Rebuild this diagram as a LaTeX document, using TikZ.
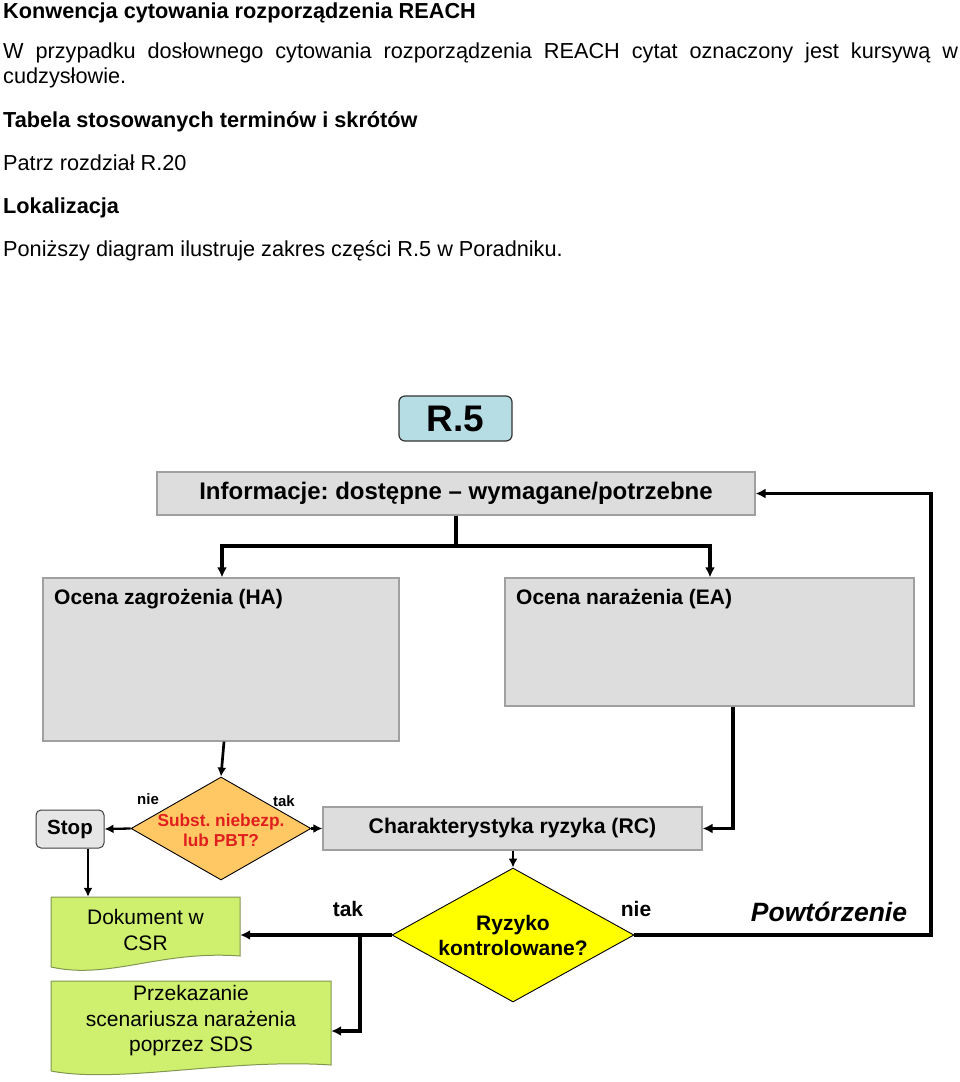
\documentclass[tikz,border=0pt]{standalone}
\usepackage{fontspec}
\setmainfont{Liberation Sans}
\usetikzlibrary{shapes.geometric,arrows.meta,calc}
\definecolor{boxgray}{RGB}{221,221,221}
\definecolor{boxedge}{RGB}{160,160,160}
\definecolor{rblue}{RGB}{183,221,228}
\definecolor{dorange}{RGB}{255,200,100}
\definecolor{dyellow}{RGB}{255,255,0}
\definecolor{dgreen}{RGB}{206,240,110}
\definecolor{gedge}{RGB}{130,150,80}
\definecolor{dred}{RGB}{225,30,30}
\definecolor{stopgray}{RGB}{230,230,230}
\frenchspacing
\begin{document}
\begin{tikzpicture}[x=1pt,y=-1pt,
  tx/.style={inner sep=0pt, anchor=base west, font=\fontsize{21.7}{25}\selectfont},
  txb/.style={tx, font=\fontsize{21.7}{25}\selectfont\bfseries},
  gbox/.style={draw=boxedge, fill=boxgray, line width=1.2pt, inner sep=0pt},
  dia/.style={diamond, draw=black, line width=0.9pt, inner sep=0pt, aspect=1},
  docst/.style={draw=gedge, fill=dgreen, line width=1pt},
  thickarr/.style={line width=3.2pt, -{Latex[length=10pt,width=10pt]}},
  thinarr/.style={line width=2.3pt, -{Latex[length=9pt,width=9pt]}},
  lbl/.style={inner sep=0pt, font=\fontsize{21}{25}\selectfont\bfseries}
]
\useasboundingbox (0,0) rectangle (960,1082);

% ---- header text ----
\node[txb] (t1) at (3,18) {Konwencja cytowania rozporządzenia REACH};
\node[tx] (t2) at (3,58) {\makebox[955pt][s]{W przypadku dosłownego cytowania rozporządzenia REACH cytat oznaczony jest kursywą w}};
\node[tx] (t3) at (3,83) {cudzysłowie.};
\node[txb] (t4) at (3,127) {Tabela stosowanych terminów i skrótów};
\node[tx] (t5) at (3,170) {Patrz rozdział R.20};
\node[txb] (t6) at (3,213) {Lokalizacja};
\node[tx] (t7) at (3,256) {Poniższy diagram ilustruje zakres części R.5 w Poradniku.};

% ---- diagram boxes ----
\node[draw=black!80, fill=rblue, rounded corners=6pt, line width=1.2pt, inner sep=0pt,
      minimum width=113pt, minimum height=45pt,
      font=\fontsize{37}{40}\selectfont\bfseries] (r5) at (455.5,418.5) {R.5};

\node[gbox, minimum width=598pt, minimum height=43pt,
      font=\fontsize{24}{28}\selectfont\bfseries] (info) at (456,493.5)
      {Informacje: dostępne -- wymagane/potrzebne};

\node[gbox, minimum width=356pt, minimum height=163pt] (ha) at (221,659.5) {};
\node[lbl, anchor=base west] (hat) at (54,604) {Ocena zagrożenia (HA)};
\node[gbox, minimum width=409pt, minimum height=128pt] (ea) at (709.5,642) {};
\node[lbl, anchor=base west] (eat) at (516,604) {Ocena narażenia (EA)};

\node[dia, fill=dorange, minimum width=180pt, minimum height=103pt] (d1) at (221,828.5) {};
\node[inner sep=0pt, align=center, text=dred,
      font=\fontsize{17.3}{20}\selectfont\bfseries] (d1t) at (221,830) {Subst. niebezp.\\lub PBT?};

\node[draw=black!75, fill=stopgray, rounded corners=5pt, line width=1pt, inner sep=0pt,
      minimum width=68pt, minimum height=38pt,
      font=\fontsize{20.5}{24}\selectfont\bfseries] (stop) at (70,829) {Stop};

\node[gbox, minimum width=379pt, minimum height=43pt,
      font=\fontsize{21.2}{25}\selectfont\bfseries] (rc) at (512.5,828.5) {Charakterystyka ryzyka (RC)};

\node[dia, fill=dyellow, minimum width=242pt, minimum height=134pt] (d2) at (513,935) {};
\node[inner sep=0pt, align=center,
      font=\fontsize{21}{25}\selectfont\bfseries] (d2t) at (513,935) {Ryzyko\\kontrolowane?};

% document shapes
\draw[docst] (51,897) -- (240,897) -- (240,956) .. controls (160,950) and (110,980) .. (51,967) -- cycle;
\node[inner sep=0pt, minimum width=189pt, minimum height=65pt, align=center,
      font=\fontsize{21}{26}\selectfont] (dok) at (145.5,929.5) {Dokument w\\CSR};
\draw[docst] (51,981) -- (331,981) -- (331,1065) .. controls (230,1058) and (120,1084) .. (51,1071) -- cycle;
\node[inner sep=0pt, minimum width=280pt, minimum height=80pt, align=center,
      font=\fontsize{21}{25.5}\selectfont] (prz) at (191,1021) {Przekazanie\\scenariusza narażenia\\poprzez SDS};

% ---- connectors ----
\coordinate (jl) at (222,546);
\coordinate (jr) at (710,546);
\draw[line width=3.2pt] (info.south) -- (info.south |- jl);
\draw[line width=3.2pt, {Latex[length=10pt,width=10pt]}-{Latex[length=10pt,width=10pt]}]
  (jl |- ha.north) -- (jl) -- (jr) -- (jr |- ea.north);
\draw[thinarr, line width=2.7pt] ([xshift=3pt]ha.south) -- (d1.north);
\draw[thickarr] ([xshift=23.5pt]ea.south) |- (rc.east);
\draw[thinarr] (d1.west) -- (stop.east);
\draw[thinarr] (d1.east) -- (rc.west);
\draw[thinarr, line width=2.7pt] (rc.south -| d2.north) -- (d2.north);
\draw[thinarr, line width=2.7pt] ([xshift=18pt]stop.south) -- ([xshift=18pt]stop.south |- dok.north);
\coordinate (jt) at (360,935);
\draw[thickarr] (d2.west) -- (d2.west -| dok.east);
\draw[thickarr] (jt) |- ([yshift=-10pt]prz.east);
\coordinate (rr) at (931,935);
\draw[thickarr] (d2.east) -- (rr) |- (info.east);

% ---- labels ----
\node[inner sep=0pt, font=\fontsize{15}{18}\selectfont\bfseries] (l1) at (148,799) {nie};
\node[inner sep=0pt, font=\fontsize{15}{18}\selectfont\bfseries] (l2) at (284,801) {tak};
\node[lbl] (l3) at (348,909) {tak};
\node[lbl] (l4) at (636,909) {nie};
\node[inner sep=0pt, font=\fontsize{26.5}{30}\selectfont\bfseries\itshape] (l5) at (829,912) {Powtórzenie};
\end{tikzpicture}
\end{document}
